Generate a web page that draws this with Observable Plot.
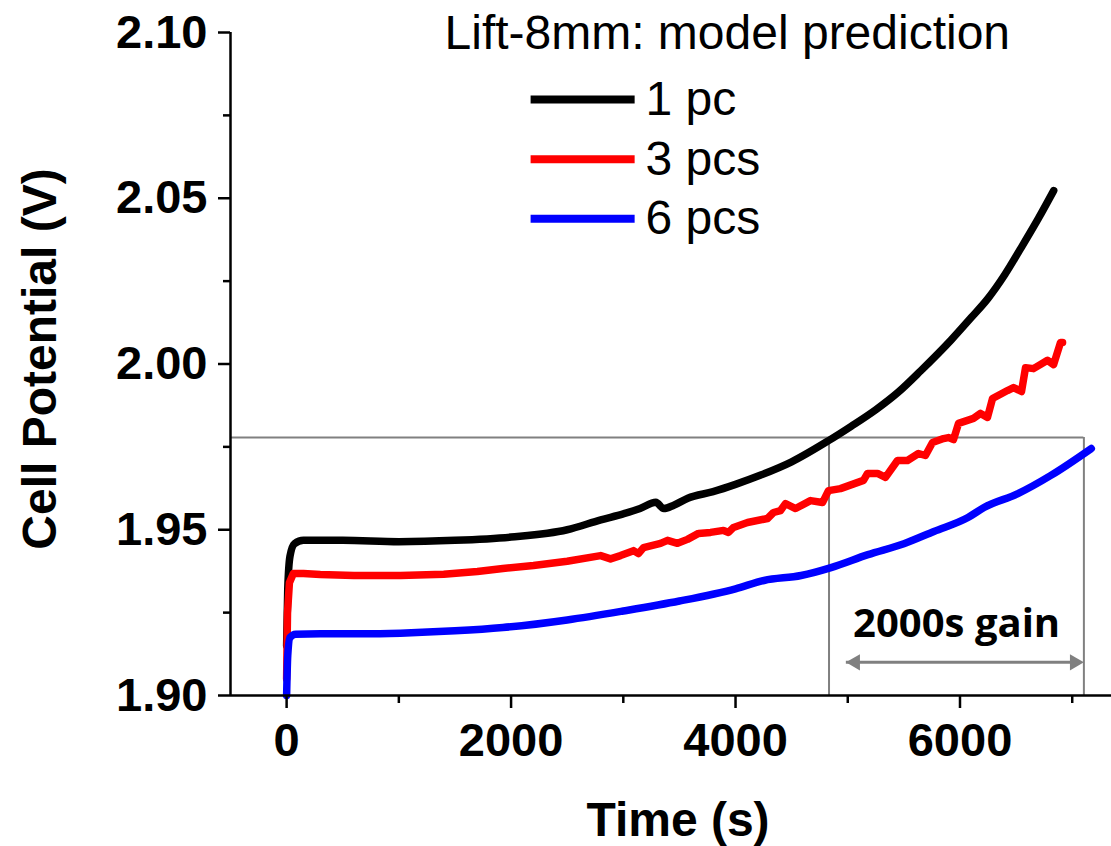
<!DOCTYPE html>
<html>
<head>
<meta charset="utf-8">
<script src="https://cdn.jsdelivr.net/npm/d3@7"></script>
<script src="https://cdn.jsdelivr.net/npm/@observablehq/plot@0.6"></script>
<style>
  html, body { margin: 0; padding: 0; background: #fff; }
  #chart { width: 1111px; height: 846px; }
</style>
</head>
<body>
<div id="chart"></div>
<script>
// ---------- data ----------
const seriesNames = ["1 pc", "3 pcs", "6 pcs"];
const seriesColors = ["#000000", "#ff0000", "#0000ff"];

// 1 pc (black)
const onePcTime = [0, 10, 30, 70, 150, 500, 1000, 1500, 2000, 2500, 2800, 3000, 3150, 3290, 3360, 3450, 3575, 3800, 4000, 4225, 4500, 4825, 5030, 5250, 5450, 5652, 5920, 6100, 6250, 6400, 6540, 6700, 6835];
const onePcVolt = [1.915, 1.932, 1.942, 1.9458, 1.9468, 1.9468, 1.9464, 1.9468, 1.9478, 1.9500, 1.9530, 1.9548, 1.9564, 1.9583, 1.9564, 1.9574, 1.9595, 1.9615, 1.9637, 1.9665, 1.9705, 1.9768, 1.9812, 1.9862, 1.9915, 1.9980, 2.0072, 2.0140, 2.0198, 2.0270, 2.0348, 2.0440, 2.0523];

// 3 pcs (red)
const threePcsTime = [0, 8, 25, 60, 150, 300, 600, 1015, 1400, 1700, 1927, 2200, 2500, 2798, 2886, 2975, 3091, 3135, 3180, 3332, 3394, 3483, 3572, 3670, 3777, 3893, 3937, 3982, 4107, 4285, 4338, 4401, 4445, 4535, 4668, 4775, 4828, 4935, 5140, 5176, 5265, 5336, 5443, 5532, 5630, 5692, 5755, 5853, 5897, 5942, 5987, 6120, 6183, 6245, 6290, 6423, 6477, 6548, 6584, 6655, 6780, 6834, 6896, 6914];
const threePcsVolt = [1.905, 1.925, 1.934, 1.9368, 1.9368, 1.9365, 1.9362, 1.9362, 1.9366, 1.9374, 1.9383, 1.9392, 1.9405, 1.9422, 1.9412, 1.9422, 1.9437, 1.9428, 1.9446, 1.9459, 1.9468, 1.9459, 1.9471, 1.9489, 1.9492, 1.9498, 1.9492, 1.9507, 1.9522, 1.9534, 1.9552, 1.9558, 1.9579, 1.9564, 1.9588, 1.9582, 1.9618, 1.9624, 1.9649, 1.9670, 1.9670, 1.9658, 1.9709, 1.9709, 1.9730, 1.9724, 1.9763, 1.9775, 1.9778, 1.9772, 1.9821, 1.9836, 1.9851, 1.9839, 1.9896, 1.9920, 1.9929, 1.9917, 1.9989, 1.9986, 2.0011, 1.9998, 2.0065, 2.0065];

// 6 pcs (blue)
const sixPcsTime = [0, 10, 30, 80, 300, 700, 1015, 1500, 1927, 2500, 3000, 3500, 4000, 4254, 4584, 4851, 5180, 5500, 5768, 6071, 6214, 6516, 6810, 7170];
const sixPcsVolt = [1.900, 1.912, 1.9175, 1.9185, 1.9186, 1.9186, 1.9188, 1.9195, 1.9205, 1.9228, 1.9255, 1.9285, 1.9322, 1.9347, 1.9362, 1.9386, 1.9425, 1.9458, 1.9495, 1.9537, 1.9567, 1.9609, 1.9664, 1.9745];

// axis ticks
const yMajorTicks = [1.90, 1.95, 2.00, 2.05, 2.10];
const yMinorTicks = [1.925, 1.975, 2.025, 2.075];
const xMajorTicks = [0, 2000, 4000, 6000];
const xMinorTicks = [1000, 3000, 5000, 7000];

// annotation values
const thresholdVolt = 1.9778;
const gainStart = 4833;
const gainEnd = 7104;
const gainLabel = "2000s gain";
const legendTitle = "Lift-8mm: model prediction";

// ---------- build tables ----------
const seriesTimes = [onePcTime, threePcsTime, sixPcsTime];
const seriesVolts = [onePcVolt, threePcsVolt, sixPcsVolt];
const seriesRows = seriesNames.map((name, s) =>
  seriesTimes[s].map((t, i) => ({series: name, t, v: seriesVolts[s][i]}))
);

const xDomain = [-500, 7350];
const yDomain = [1.90, 2.10];

// legend rows (data units)
const legendRows = seriesNames.map((name, i) => ({
  name, color: seriesColors[i], v: 2.0798 - i * 0.0180
}));

const chart = Plot.plot({
  width: 1111,
  height: 846,
  marginLeft: 230,
  marginRight: 0,
  marginTop: 32,
  marginBottom: 151,
  x: {domain: xDomain},
  y: {domain: yDomain},
  color: {domain: seriesNames, range: seriesColors},
  style: {
    fontFamily: "'Liberation Sans', Arial, sans-serif",
    fontSize: "47px",
    fontWeight: "bold",
    background: "#fff",
    color: "#000",
    overflow: "visible"
  },
  marks: [
    // gray guide lines
    Plot.ruleY([thresholdVolt], {x1: xDomain[0], x2: gainEnd, stroke: "#808080", strokeWidth: 2}),
    Plot.ruleX([gainStart, gainEnd], {y1: yDomain[0], y2: thresholdVolt, stroke: "#808080", strokeWidth: 2}),

    // data lines
    Plot.line(seriesRows[0], {x: "t", y: "v", stroke: "series", strokeWidth: 7.5, strokeLinejoin: "round", curve: "monotone-x"}),
    Plot.line(seriesRows[1], {x: "t", y: "v", stroke: "series", strokeWidth: 7.5, strokeLinejoin: "round"}),
    Plot.line(seriesRows[2], {x: "t", y: "v", stroke: "series", strokeWidth: 7.5, strokeLinejoin: "round", curve: "monotone-x"}),

    // axis lines
    Plot.ruleX([xDomain[0]], {y1: yDomain[0], y2: yDomain[1], stroke: "#000", strokeWidth: 2.5}),
    Plot.ruleY([yDomain[0]], {x1: xDomain[0], x2: xDomain[1], stroke: "#000", strokeWidth: 2.5}),

    // axes
    Plot.axisY({ticks: yMajorTicks, tickSize: 12, tickPadding: 11, tickFormat: d3.format(".2f"), strokeWidth: 2.5, fontSize: 47, fontWeight: "bold", label: null}),
    Plot.axisY({ticks: yMinorTicks, tickSize: 7, tickFormat: () => "", strokeWidth: 2.5, label: null}),
    Plot.axisX({ticks: xMajorTicks, tickSize: 13, tickPadding: 14, tickFormat: d3.format("d"), strokeWidth: 2.5, fontSize: 47, fontWeight: "bold", label: null}),
    Plot.axisX({ticks: xMinorTicks, tickSize: 8, tickFormat: () => "", strokeWidth: 2.5, label: null}),

    // axis titles
    Plot.text(["Time (s)"], {frameAnchor: "bottom", textAnchor: "middle", dx: 7, dy: 140, lineAnchor: "bottom", fontSize: 48, fontWeight: "bold"}),
    Plot.text(["Cell Potential (V)"], {frameAnchor: "left", textAnchor: "middle", dx: -190, dy: -5, rotate: -90, lineAnchor: "middle", fontSize: 48, fontWeight: "bold"}),

    // legend
    Plot.text([legendTitle], {x: 1407, y: 2.0949, textAnchor: "start", lineAnchor: "bottom", fontSize: 48, fontWeight: "normal"}),
    Plot.link(legendRows, {x1: 2174, x2: 3101, y1: "v", y2: "v", stroke: "color", strokeWidth: 8}),
    Plot.text(legendRows, {x: 3197, y: "v", text: "name", textAnchor: "start", lineAnchor: "middle", fontSize: 48, fontWeight: "normal"}),

    // gain arrow
    Plot.link([{a: gainStart + 150, b: gainEnd - 120}], {x1: "a", x2: "b", y1: 1.910, y2: 1.910, stroke: "#808080", strokeWidth: 3}),
    Plot.dot([{t: gainStart + 234, r: -90}, {t: gainEnd - 83, r: 90}], {x: "t", y: 1.910, rotate: "r", symbol: "triangle", r: 6, fill: "#808080", stroke: "none"}),
    Plot.text([gainLabel], {x: 5970, y: 1.9175, lineAnchor: "bottom", fontFamily: "'Open Sans', sans-serif", fontSize: 40, fontWeight: "bold"})
  ]
});

document.getElementById("chart").appendChild(chart);
</script>
</body>
</html>
